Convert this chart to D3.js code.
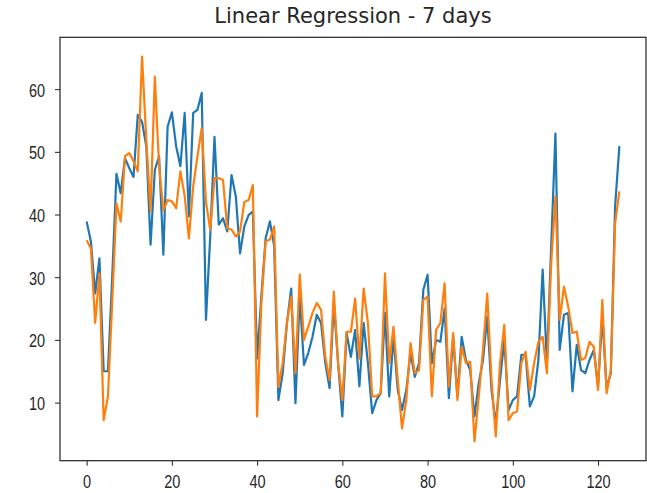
<!DOCTYPE html>
<html>
<head>
<meta charset="utf-8">
<script src="https://cdn.jsdelivr.net/npm/d3@7"></script>
<style>
  body { margin: 0; background: #fff; }
  svg { display: block; font-family: "DejaVu Sans", sans-serif; }
</style>
</head>
<body>
<div id="chart"></div>
<script>
// ------------------------------------------------------------------------ //
// DATA
// ------------------------------------------------------------------------ //

var titleText = "Linear Regression - 7 days";

// actual values (blue)
var actual = [
  38.9, 35.7, 27.4, 33.0, 15.0, 15.0, 30.0, 46.5, 43.4, 49.0,
  47.4, 46.0, 55.9, 54.8, 50.9, 35.2, 47.1, 49.3, 33.6, 54.0,
  56.3, 50.9, 47.7, 56.2, 39.7, 56.2, 56.7, 59.4, 23.2, 36.5,
  52.4, 38.4, 39.4, 37.3, 46.3, 42.9, 33.8, 38.1, 39.9, 40.5,
  17.0, 27.0, 36.2, 38.9, 35.0, 10.4, 14.7, 22.7, 28.2, 9.9,
  27.0, 16.0, 17.9, 20.5, 24.0, 22.7, 16.3, 12.3, 25.9, 16.3,
  7.8, 21.1, 17.3, 21.6, 12.6, 22.7, 16.3, 8.3, 10.4, 11.5,
  24.3, 11.0, 20.5, 12.0, 8.8, 12.0, 17.9, 14.1, 16.3, 28.0,
  30.4, 16.3, 20.0, 19.7, 25.0, 10.7, 20.5, 11.0, 20.5, 16.8,
  15.2, 7.8, 13.1, 16.8, 23.7, 12.0, 6.7, 13.6, 20.0, 8.8,
  10.4, 11.0, 17.6, 17.6, 9.4, 11.0, 16.8, 31.2, 16.3, 34.9,
  52.9, 18.4, 24.0, 24.3, 11.8, 19.2, 15.2, 14.7, 16.8, 18.4,
  12.6, 23.7, 12.3, 14.7, 41.3, 50.9
];

// predicted values (orange)
var predicted = [
  35.9, 34.6, 22.7, 30.6, 7.2, 11.0, 26.0, 41.8, 38.9, 49.3,
  49.8, 48.5, 46.9, 65.2, 51.9, 40.5, 62.0, 47.7, 40.7, 42.3,
  42.1, 41.0, 46.9, 43.0, 36.2, 44.5, 49.3, 53.8, 42.0, 37.6,
  45.8, 45.8, 45.5, 37.8, 37.6, 36.5, 37.3, 42.0, 42.3, 44.7,
  7.8, 25.9, 35.7, 36.0, 38.1, 12.5, 16.3, 22.7, 26.9, 14.7,
  30.4, 20.0, 22.1, 24.3, 25.9, 24.8, 17.3, 13.6, 27.7, 16.3,
  10.4, 21.3, 21.3, 26.6, 17.0, 28.2, 22.7, 11.0, 11.0, 11.5,
  30.6, 16.3, 22.1, 13.6, 5.9, 10.4, 19.5, 14.7, 15.2, 26.4,
  26.9, 11.0, 21.6, 22.7, 29.0, 12.6, 21.1, 10.4, 18.9, 16.3,
  16.5, 3.8, 11.0, 18.4, 27.4, 13.6, 4.6, 16.3, 22.4, 7.2,
  8.3, 8.6, 16.3, 18.1, 12.0, 16.3, 19.7, 20.5, 14.7, 32.2,
  42.9, 23.2, 28.5, 25.3, 21.1, 21.3, 16.8, 17.1, 19.7, 18.9,
  12.0, 26.4, 11.5, 15.2, 38.6, 43.7
];

var xTicks = [0, 20, 40, 60, 80, 100, 120];
var yTicks = [10, 20, 30, 40, 50, 60];

// ------------------------------------------------------------------------ //
// SVG AREA
// ------------------------------------------------------------------------ //

var totalWidth = 647, totalHeight = 493;
var margin = {top: 37.3, right: 1, bottom: 32.3, left: 60},
  width = totalWidth - margin.left - margin.right,
  height = totalHeight - margin.top - margin.bottom;

var svg = d3.select("#chart")
  .append("svg")
    .attr("width", totalWidth)
    .attr("height", totalHeight)
  .append("g")
    .attr("transform", "translate(" + margin.left + "," + margin.top + ")");

// ------------------------------------------------------------------------ //
// SCALES (matplotlib style 5% margins)
// ------------------------------------------------------------------------ //

var n = actual.length;
var xPad = (n - 1) * 0.05;
var x = d3.scaleLinear()
  .domain([-xPad, n - 1 + xPad])
  .range([0, width]);

var allValues = actual.concat(predicted);
var yMin = d3.min(allValues), yMax = d3.max(allValues);
var yPad = (yMax - yMin) * 0.05;
var y = d3.scaleLinear()
  .domain([yMin - yPad, yMax + yPad])
  .range([height, 0]);

// ------------------------------------------------------------------------ //
// LINES
// ------------------------------------------------------------------------ //

var line = d3.line()
  .x(function(d, i) { return x(i) })
  .y(function(d) { return y(d) });

svg.append("path")
  .datum(actual)
  .attr("fill", "none")
  .attr("stroke", "#1f77b4")
  .attr("stroke-width", 2.2)
  .attr("stroke-linejoin", "round")
  .attr("d", line);

svg.append("path")
  .datum(predicted)
  .attr("fill", "none")
  .attr("stroke", "#ff7f0e")
  .attr("stroke-width", 2.2)
  .attr("stroke-linejoin", "round")
  .attr("d", line);

// ------------------------------------------------------------------------ //
// AXES
// ------------------------------------------------------------------------ //

var xAxis = svg.append("g")
  .attr("transform", "translate(0," + height + ")")
  .call(d3.axisBottom(x).tickValues(xTicks).tickSize(5).tickSizeOuter(0));

var yAxis = svg.append("g")
  .call(d3.axisLeft(y).tickValues(yTicks).tickSize(5).tickSizeOuter(0));

[xAxis, yAxis].forEach(function(a) {
  a.select(".domain").remove();
  a.selectAll(".tick line").attr("stroke", "#222").attr("stroke-width", 1);
  a.selectAll(".tick text")
    .style("font-size", "14.5px")
    .attr("fill", "#262626");
});

// labels look vertically stretched in the picture
xAxis.selectAll(".tick text")
  .attr("y", null)
  .attr("dy", null)
  .attr("transform", "translate(0,27.5) scale(1,1.3)");

yAxis.selectAll(".tick text")
  .attr("x", null)
  .attr("dy", "0.3645em")
  .attr("transform", "translate(-15,0) scale(1,1.3)");

// frame
svg.append("rect")
  .attr("width", width)
  .attr("height", height)
  .attr("fill", "none")
  .attr("stroke", "#222")
  .attr("stroke-width", 1.2);

// title
svg.append("text")
  .attr("x", width / 2)
  .attr("y", 23 - margin.top)
  .attr("text-anchor", "middle")
  .style("font-size", "21px")
  .attr("fill", "#262626")
  .text(titleText);
</script>
</body>
</html>
